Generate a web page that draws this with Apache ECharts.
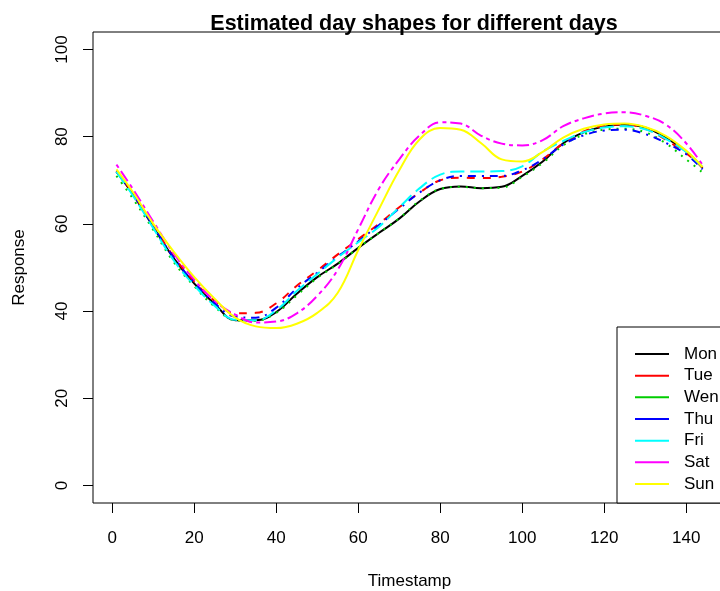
<!DOCTYPE html>
<html>
<head>
<meta charset="utf-8">
<script src="https://cdn.jsdelivr.net/npm/echarts@6/dist/echarts.min.js"></script>
<style>
html,body{margin:0;padding:0;background:#fff;}
#chart{width:720px;height:591px;}
</style>
</head>
<body>
<div id="chart"></div>
<script>
var timestamps = [1,5,10,15,20,25,30,35,40,45,50,55,60,65,70,75,80,85,90,95,100,105,110,115,120,125,130,135,140,144];
var mon = [72.0,66.8,59.3,52.1,46.3,41.6,37.9,37.9,39.8,44.0,47.8,50.9,54.5,57.9,61.2,65.2,68.0,68.6,68.2,68.5,71.0,74.3,78.5,81.0,82.3,82.8,82.1,79.8,76.6,72.8];
var tue = [72.2,67.0,59.6,52.5,46.8,42.3,39.5,39.6,41.8,45.8,49.3,53.0,56.5,60.0,63.8,67.2,70.0,70.6,70.5,70.8,72.0,74.8,78.5,81.2,82.5,82.8,81.8,79.3,76.2,73.0];
var wen = [71.0,65.8,58.6,51.2,45.7,41.0,37.9,37.8,39.6,43.6,47.6,50.8,54.5,57.9,61.3,65.3,68.0,68.5,68.2,68.3,70.8,74.0,78.0,80.5,81.6,81.8,81.0,78.5,74.8,71.8];
var thu = [72.0,66.9,59.5,52.2,46.5,41.8,38.7,38.5,40.8,45.2,48.8,52.5,56.0,59.7,63.5,67.2,70.0,71.0,71.0,71.0,72.3,74.8,78.2,80.3,81.4,81.6,80.6,78.6,76.0,72.5];
var fri = [72.0,66.5,59.0,51.6,45.9,41.2,38.0,37.9,40.2,44.6,48.5,52.3,55.8,59.3,63.8,68.2,71.3,72.0,72.0,72.1,73.2,76.6,79.0,81.0,82.1,82.4,81.7,79.5,76.5,73.0];
var sat = [73.6,68.0,60.5,53.2,47.2,42.3,39.2,37.4,37.6,39.5,43.5,49.5,58.8,68.0,74.8,80.3,83.3,83.0,80.2,78.4,78.0,79.2,82.4,84.2,85.3,85.6,84.8,82.8,78.5,73.5];
var sun = [72.5,67.3,60.0,53.6,47.8,42.8,38.5,36.5,36.1,37.1,39.6,44.2,54.0,63.3,72.3,79.4,82.0,81.6,78.5,74.8,74.3,76.5,79.8,81.8,82.8,83.0,82.2,80.2,76.8,73.0];
var xTicks = [0,20,40,60,80,100,120,140];
var yTicks = [0,20,40,60,80,100];
var dayNames = ['Mon','Tue','Wen','Thu','Fri','Sat','Sun'];
var dayValues = [mon,tue,wen,thu,fri,sat,sun];
var dayColors = ['#000000','#FF0000','#00CD00','#0000FF','#00FFFF','#FF00FF','#FFFF00'];
var dayDash = ['solid',[8,8],[2,6],[2,6,8,6],[14,6],[4,4,12,4],'solid'];

var FONT = 'Liberation Sans, Arial, sans-serif';

function pairs(vals){
  return timestamps.map(function(t,i){ return [t, vals[i]]; });
}

var series = dayNames.map(function(name, i){
  return {
    name: name,
    type: 'line',
    data: pairs(dayValues[i]),
    smooth: 0.4,
    symbol: 'none',
    lineStyle: {color: dayColors[i], width: 2, type: dayDash[i]},
    itemStyle: {color: dayColors[i]},
    emphasis: {disabled: true},
    animation: false,
    z: 2 + i
  };
});

var chart = echarts.init(document.getElementById('chart'), null, {renderer: 'canvas'});
chart.setOption({
  backgroundColor: '#ffffff',
  animation: false,
  title: {
    text: 'Estimated day shapes for different days',
    left: 409,
    textAlign: 'center',
    top: 8,
    textStyle: {fontFamily: FONT, fontWeight: 'bold', fontSize: 21.5, color: '#000'}
  },
  grid: {
    left: 93, top: 32, width: 633, height: 471,
    containLabel: false,
    outerBoundsMode: 'none',
    show: true, borderColor: '#000', borderWidth: 1, backgroundColor: 'transparent'
  },
  legend: {
    orient: 'vertical',
    left: 617,
    top: 327,
    padding: [17, 60, 9, 17],
    itemWidth: 34,
    itemHeight: 14,
    itemGap: 1.67,
    borderColor: '#000',
    borderWidth: 1,
    backgroundColor: '#fff',
    itemStyle: {opacity: 0},
    lineStyle: {type: 'solid', width: 2},
    textStyle: {fontFamily: FONT, fontSize: 17, color: '#000', lineHeight: 20, padding: [0,0,0,10]},
    data: dayNames
  },
  xAxis: {
    type: 'value',
    min: -4.72,
    max: 149.72,
    name: 'Timestamp',
    nameLocation: 'middle',
    nameGap: 70,
    nameTextStyle: {fontFamily: FONT, fontSize: 17, color: '#000'},
    axisLine: {show: false, onZero: false},
    splitLine: {show: false},
    axisTick: {show: true, length: 10, customValues: xTicks, lineStyle: {color: '#000'}},
    axisLabel: {customValues: xTicks, margin: 27, fontFamily: FONT, fontSize: 17, color: '#000'}
  },
  yAxis: {
    type: 'value',
    min: -4,
    max: 104,
    name: 'Response',
    nameLocation: 'middle',
    nameGap: 65,
    nameRotate: 90,
    nameTextStyle: {fontFamily: FONT, fontSize: 17, color: '#000'},
    axisLine: {show: false, onZero: false},
    splitLine: {show: false},
    axisTick: {show: true, length: 10, customValues: yTicks, lineStyle: {color: '#000'}},
    axisLabel: {customValues: yTicks, rotate: 90, margin: 22, fontFamily: FONT, fontSize: 17, color: '#000'}
  },
  series: series
});
</script>
</body>
</html>
